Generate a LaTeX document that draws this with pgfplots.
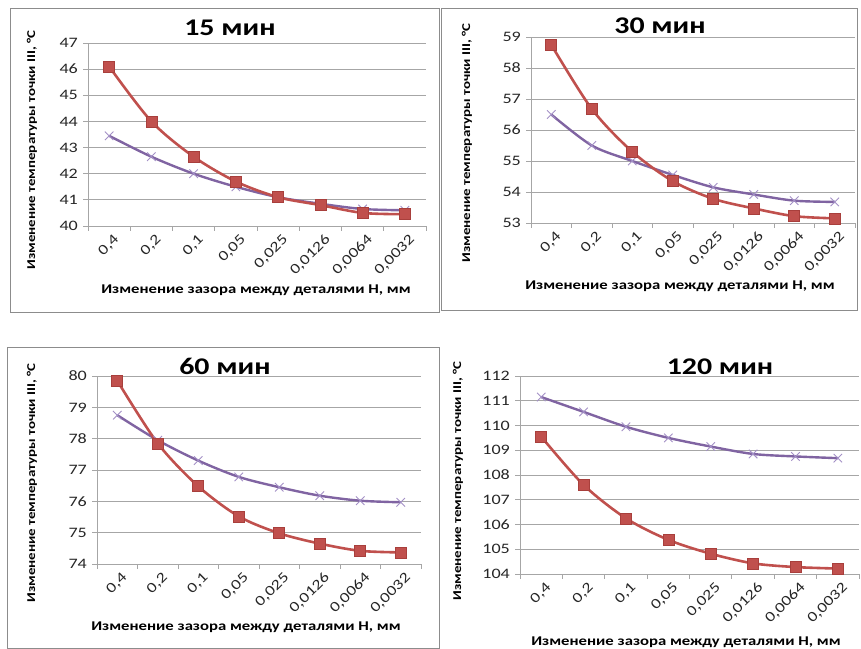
\documentclass[border=0pt]{standalone}
\usepackage{fontspec}
\setmainfont{Carlito}[FakeStretch=1.25]
\usepackage{pgfplots}
\pgfplotsset{compat=1.18}

\definecolor{xred}{HTML}{C0504D}
\definecolor{xredd}{HTML}{A83F3C}
\definecolor{xpurple}{HTML}{8064A2}
\definecolor{xpurplem}{HTML}{A390C6}
\definecolor{gridc}{HTML}{A6A6A6}
\definecolor{framec}{HTML}{8C8C8C}

\pgfplotsset{
  panel/.style={
    scale only axis,
    xmin=-0.5, xmax=7.5,
    xtick={0,...,7},
    xticklabels={{0,4},{0,2},{0,1},{0,05},{0,025},{0,0126},{0,0064},{0,0032}},
    major x tick style={draw=none},
    minor xtick={-0.5,0.5,...,7.5},
    tick align=outside,
    major tick length=5bp, minor tick length=5bp,
    ytick distance=1,
    ymajorgrids,
    grid style={gridc, line width=0.8bp},
    axis x line*=bottom, axis y line*=left,
    axis line style={-, gridc, line width=0.8bp},
    tick style={gridc, line width=0.8bp},
    ticklabel style={font=\fontsize{14.5}{16}\selectfont, text=black!85},
    x tick label style={rotate=45, anchor=east, inner sep=1pt, xshift=2bp, yshift=-10bp},
    y tick label style={inner sep=2pt, xshift=-3bp},
    /pgf/number format/assume math mode=true,
    clip=false,
  },
  redp/.style={xred, line width=2.6bp, smooth, mark=square*, mark size=5.5bp,
    mark options={fill=xred, draw=xredd, line width=0.6bp}},
  purp/.style={xpurple, line width=2.4bp, smooth, mark=x, mark size=6bp,
    mark options={draw=xpurplem, line width=0.9bp}},
}

\newcommand{\ttl}{\fontsize{24}{26}\selectfont\bfseries}
\newcommand{\ylab}{\fontsize{12}{13}\selectfont\bfseries}
\newcommand{\xlab}{\fontsize{13.4}{15}\selectfont\bfseries}

\begin{document}
\begin{tikzpicture}[x=1bp,y=1bp]
\path[use as bounding box] (0,0) rectangle (861,649);

% frames
\draw[framec, line width=0.8bp] (10,641) rectangle (439,337);
\draw[framec, line width=0.8bp] (441,641) rectangle (857,339);
\draw[framec, line width=0.8bp] (7,0.5) rectangle (439,302);

% ---------- 15 min ----------
\begin{axis}[panel, at={(88bp,423bp)}, anchor=south west, width=338bp, height=183bp,
  ymin=40, ymax=47]
\addplot[purp] coordinates {(0,43.45) (1,42.65) (2,42.0) (3,41.5) (4,41.1) (5,40.85) (6,40.65) (7,40.6)};
\addplot[redp] coordinates {(0,46.1) (1,44.0) (2,42.65) (3,41.7) (4,41.1) (5,40.8) (6,40.5) (7,40.45)};
\end{axis}
\node at (230,621) {\ttl 15 мин};
\node[rotate=90] at (32,499) {\ylab Изменение температуры точки III, °C};
\node at (256,359) {\xlab Изменение зазора между деталями H, мм};

% ---------- 30 min ----------
\begin{axis}[panel, at={(531bp,426bp)}, anchor=south west, width=324bp, height=186bp,
  ymin=53, ymax=59]
\addplot[purp] coordinates {(0,56.5) (1,55.5) (2,55.0) (3,54.55) (4,54.15) (5,53.92) (6,53.72) (7,53.68)};
\addplot[redp] coordinates {(0,58.75) (1,56.68) (2,55.3) (3,54.35) (4,53.78) (5,53.47) (6,53.22) (7,53.15)};
\end{axis}
\node at (660,623) {\ttl 30 мин};
\node[rotate=90] at (467,506) {\ylab Изменение температуры точки III, °C};
\node at (680,363) {\xlab Изменение зазора между деталями H, мм};

% ---------- 60 min ----------
\begin{axis}[panel, at={(97bp,85bp)}, anchor=south west, width=324bp, height=188bp,
  ymin=74, ymax=80]
\addplot[purp] coordinates {(0,78.75) (1,77.95) (2,77.3) (3,76.78) (4,76.45) (5,76.18) (6,76.02) (7,75.97)};
\addplot[redp] coordinates {(0,79.85) (1,77.85) (2,76.48) (3,75.52) (4,74.98) (5,74.65) (6,74.42) (7,74.37)};
\end{axis}
\node at (225,283) {\ttl 60 мин};
\node[rotate=90] at (32,166) {\ylab Изменение температуры точки III, °C};
\node at (246,22) {\xlab Изменение зазора между деталями H, мм};

% ---------- 120 min ----------
\begin{axis}[panel, at={(520bp,75bp)}, anchor=south west, width=339bp, height=198bp,
  ymin=104, ymax=112]
\addplot[purp] coordinates {(0,111.15) (1,110.55) (2,109.95) (3,109.5) (4,109.15) (5,108.85) (6,108.75) (7,108.68)};
\addplot[redp] coordinates {(0,109.55) (1,107.6) (2,106.25) (3,105.38) (4,104.82) (5,104.43) (6,104.28) (7,104.22)};
\end{axis}
\node at (720,282) {\ttl 120 мин};
\node[rotate=90] at (458,168) {\ylab Изменение температуры точки III, °C};
\node at (686,7) {\xlab Изменение зазора между деталями H, мм};
\end{tikzpicture}
\end{document}
